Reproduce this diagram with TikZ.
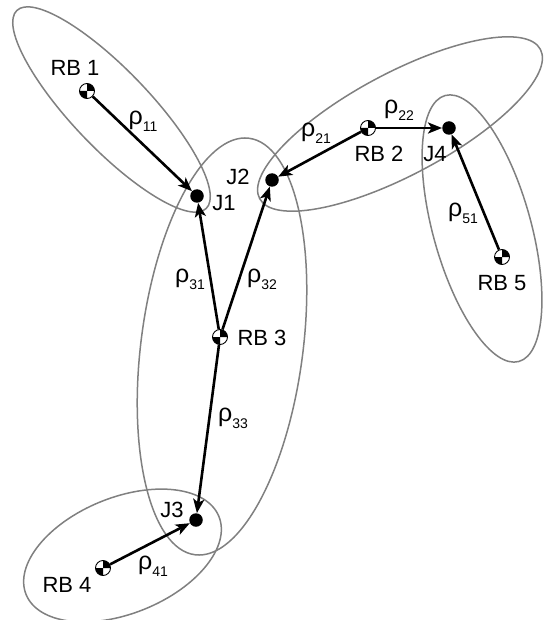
\documentclass[tikz,border=0pt]{standalone}
\usepackage{fontspec}
\setmainfont{Liberation Sans}
\usetikzlibrary{arrows.meta}
\newcommand{\rh}[1]{{\fontsize{25}{26}\selectfont ρ}\raisebox{-7pt}{\fontsize{14}{14}\selectfont #1}}
\begin{document}
\begin{tikzpicture}[x=1pt,y=-1pt,
  com/.style={circle,draw,line width=0.9pt,fill=white,minimum size=15pt,inner sep=0pt,
    path picture={
     \fill[black] (path picture bounding box.center) -- ++(0:9pt) arc[start angle=0,end angle=90,radius=9pt] -- cycle;
     \fill[black] (path picture bounding box.center) -- ++(180:9pt) arc[start angle=180,end angle=270,radius=9pt] -- cycle;}},
  joint/.style={circle,fill=black,minimum size=13.5pt,inner sep=0pt},
  body/.style={draw=gray,line width=1.5pt},
  arr/.style={line width=2.6pt,-{Stealth[length=14pt,width=11pt,inset=3.5pt]}},
  lab/.style={font=\fontsize{22}{24}\selectfont,inner sep=0pt},
  rho/.style={inner sep=0pt}]
\useasboundingbox[fill=white] (0,0) rectangle (545,620);
% bodies
\draw[body,rotate around={133.7:(111.5,109.5)}] (111.5,109.5) ellipse[x radius=137,y radius=39];
\draw[body,rotate around={28:(400,124)}] (400,124) ellipse[x radius=159,y radius=51];
\draw[body,rotate around={105.5:(482,228.5)}] (482,228.5) ellipse[x radius=138,y radius=49];
\draw[body,rotate around={82.6:(222,346.5)}] (222,346.5) ellipse[x radius=210,y radius=81];
\draw[body,rotate around={22:(122.5,555.5)}] (122.5,555.5) ellipse[x radius=104,y radius=58];
% points
\node[com] (rb1) at (87,91) {};
\node[com] (rb2) at (368,128) {};
\node[com] (rb3) at (220,337) {};
\node[com] (rb4) at (103,568) {};
\node[com] (rb5) at (502,257) {};
\node[joint] (j1) at (197,196) {};
\node[joint] (j2) at (272,180) {};
\node[joint] (j3) at (196,520) {};
\node[joint] (j4) at (449,128) {};
% labels
\node[lab] (l1) at (75,68) {RB 1};
\node[lab] (l2) at (379,154) {RB 2};
\node[lab] (l3) at (262,338) {RB 3};
\node[lab] (l4) at (67,585) {RB 4};
\node[lab] (l5) at (502,283) {RB 5};
\node[lab] (lj1) at (224,203) {J1};
\node[lab] (lj2) at (238,177) {J2};
\node[lab] (lj3) at (172,510) {J3};
\node[lab] (lj4) at (435,154) {J4};
% arrows
\draw[arr] (rb1) -- (j1);
\draw[arr] (rb2) -- (j2);
\draw[arr] (rb2) -- (j4);
\draw[arr] (rb5) -- (j4);
\draw[arr] (rb3) -- (j1);
\draw[arr] (rb3) -- (j2);
\draw[arr] (rb3) -- (j3);
\draw[arr] (rb4) -- (j3);
% rho labels
\node[rho] (r11) at (143,121) {\rh{11}};
\node[rho] (r21) at (316,133) {\rh{21}};
\node[rho] (r22) at (399,110) {\rh{22}};
\node[rho] (r51) at (463,213) {\rh{51}};
\node[rho] (r31) at (190,279) {\rh{31}};
\node[rho] (r32) at (262,279) {\rh{32}};
\node[rho] (r33) at (233,418) {\rh{33}};
\node[rho] (r41) at (153,566) {\rh{41}};
\end{tikzpicture}
\end{document}
